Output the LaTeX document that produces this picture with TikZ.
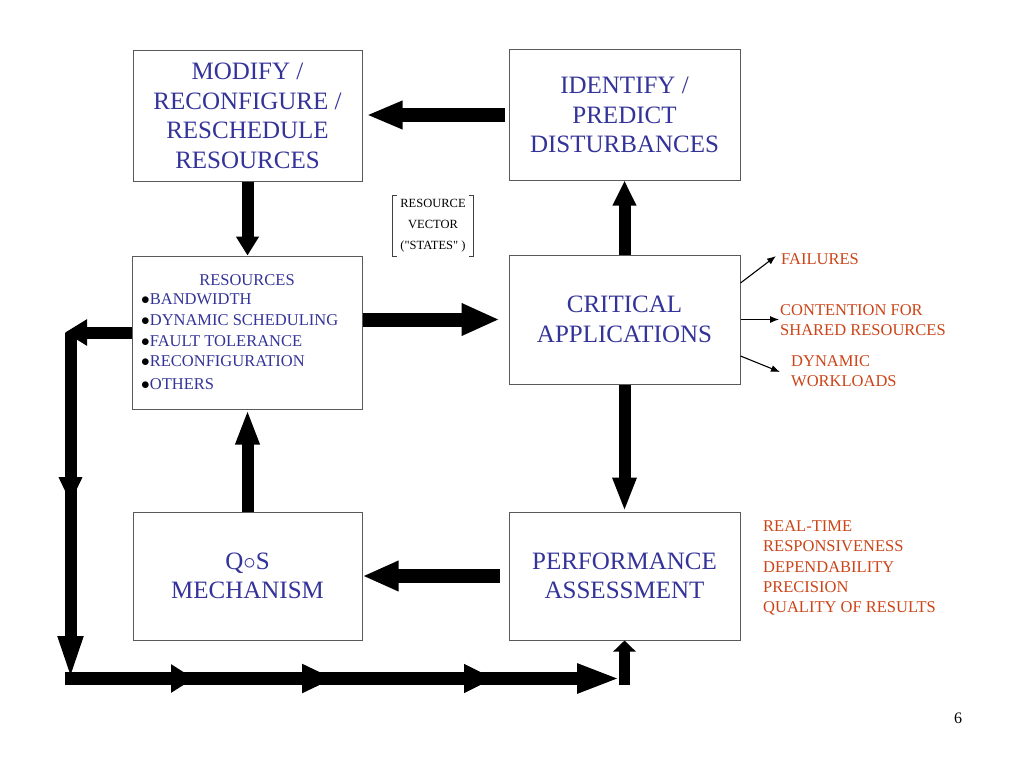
\documentclass[tikz,border=0pt]{standalone}
\usepackage{fontspec}
\setmainfont{Liberation Serif}
\newfontfamily\rvfont[Ligatures=TeXOff]{Liberation Serif}
\usetikzlibrary{arrows.meta}
\definecolor{boxblue}{RGB}{51,51,153}
\definecolor{labred}{RGB}{204,68,24}
\definecolor{framegray}{RGB}{90,90,90}
\newcommand{\blt}{{\color{black}$\bullet$}}
\begin{document}
\begin{tikzpicture}[x=1pt,y=-1pt,
  box/.style={draw=framegray, line width=1pt, inner sep=0pt, text=boxblue, align=center,
    font=\fontsize{25}{29.5}\selectfont},
  lab/.style={text=labred, align=left, anchor=west, inner sep=0pt,
    font=\fontsize{16.5}{20.3}\selectfont},
  fat/.style n args={3}{line width=#1, -{Triangle[length=#2,width=#3]}},
  pointer/.style={line width=1.1pt, -{Latex[length=9pt,width=7pt]}}
]
\fill[white] (0,0) rectangle (1024,768);
\useasboundingbox (0,0) rectangle (1024,768);

% boxes
\node[box, minimum width=229pt, minimum height=130pt] (b1) at (247.5,116) {MODIFY /\\RECONFIGURE /\\RESCHEDULE\\RESOURCES};
\node[box, minimum width=231pt, minimum height=130pt] (b2) at (624.5,115) {IDENTIFY /\\PREDICT\\DISTURBANCES};
\node[box, minimum width=230pt, minimum height=153pt] (b3) at (247,332.5) {};
\node[box, minimum width=231pt, minimum height=129pt] (b4) at (624.5,319.5) {CRITICAL\\APPLICATIONS};
\node[box, minimum width=229pt, minimum height=128pt] (b5) at (247.5,576) {Q$\circ$S\\MECHANISM};
\node[box, minimum width=231pt, minimum height=128pt] (b6) at (624.5,576) {PERFORMANCE\\ASSESSMENT};

% resources contents
\node[inner sep=0pt, text=boxblue, font=\fontsize{16.5}{20.5}\selectfont] (restitle) at (247,280) {RESOURCES};
\node[inner sep=0pt, text=boxblue, anchor=west, align=left, font=\fontsize{16.5}{20.6}\selectfont] (reslist) at (141,342)
 {\blt BANDWIDTH\\\blt DYNAMIC SCHEDULING\\\blt FAULT TOLERANCE\\\blt RECONFIGURATION\\[2.5pt]\blt OTHERS};

% resource vector
\node[inner sep=0pt, minimum width=80pt, minimum height=61pt, align=center,
  font=\rvfont\fontsize{12.5}{21}\selectfont] (rv) at (433,226) {RESOURCE\\VECTOR\\("STATES"\ )};
\draw[line width=0.8pt, black!75] ([xshift=4pt]rv.north west) -- (rv.north west) -- (rv.south west) -- ([xshift=4pt]rv.south west);
\draw[line width=0.8pt, black!75] ([xshift=-4pt]rv.north east) -- (rv.north east) -- (rv.south east) -- ([xshift=-4pt]rv.south east);

% main thick arrows
\draw[fat={14pt}{36pt}{26pt}] ([xshift=-4pt]b2.west) -- ([xshift=4pt]b1.east |- b2.west);
\draw[fat={12pt}{19pt}{22pt}] (b1.south) -- (b1.south |- b3.north);
\draw[fat={14pt}{38pt}{30pt}] (b3.east |- b4.west) -- ([xshift=-9pt]b4.west);
\draw[fat={12pt}{25pt}{22pt}] (b4.north) -- (b2.south);
\draw[fat={12pt}{34pt}{22pt}] (b4.south) -- (b6.north);
\draw[fat={12pt}{35pt}{22pt}] (b5.north) -- (b5.north |- b3.south);
\draw[fat={14pt}{36pt}{28pt}] ([xshift=-9pt]b6.west) -- (b5.east);

% feedback loop
\coordinate (L0) at (65,332.5);
\coordinate (V0) at (70.5,332.5);
\coordinate (V1) at (70.5,503);
\coordinate (V1b) at (70.5,478);
\coordinate (V2) at (70.5,682);
\coordinate (H0) at (64.5,678.5);
\coordinate (H1) at (194,678.5);
\coordinate (H1b) at (172,678.5);
\coordinate (H2) at (334,678.5);
\coordinate (H2b) at (303,678.5);
\coordinate (H3) at (494,678.5);
\coordinate (H3b) at (465,678.5);
\coordinate (H4) at (620,678.5);
\coordinate (U0) at (624.5,685);
\draw[fat={12pt}{22pt}{25pt}] (b3.west) -- (L0);
\draw[fat={12pt}{26pt}{22pt}] (V0) -- (V1);
\draw[fat={12pt}{46pt}{22pt}] (V1b) -- (V2);
\draw[fat={13pt}{23pt}{27pt}] (H0) -- (H1);
\draw[fat={13pt}{32pt}{27pt}] (H1b) -- (H2);
\draw[fat={13pt}{30pt}{27pt}] (H2b) -- (H3);
\draw[fat={13pt}{43pt}{27pt}] (H3b) -- (H4);
\draw[fat={11pt}{11pt}{22pt}] (U0) -- (b6.south);

% disturbance pointers
\coordinate (f1) at (776,256);
\coordinate (f2) at (779,319.5);
\coordinate (f3) at (780,372);
\draw[pointer] ([yshift=36.5pt]b4.east) -- (f1);
\draw[pointer] (b4.east) -- (f2);
\draw[pointer] ([yshift=-36.5pt]b4.east) -- (f3);

% red labels
\node[lab] (lfail) at (781,259) {FAILURES};
\node[lab] (lcont) at (780,320) {CONTENTION FOR\\SHARED RESOURCES};
\node[lab] (ldyn) at (791,371) {DYNAMIC\\WORKLOADS};
\node[lab] (lqual) at (763,568) {REAL-TIME\\RESPONSIVENESS\\DEPENDABILITY\\PRECISION\\QUALITY OF RESULTS};

% page number
\node[inner sep=0pt, font=\fontsize{16}{18}\selectfont] (pg) at (958,718) {6};
\end{tikzpicture}
\end{document}
